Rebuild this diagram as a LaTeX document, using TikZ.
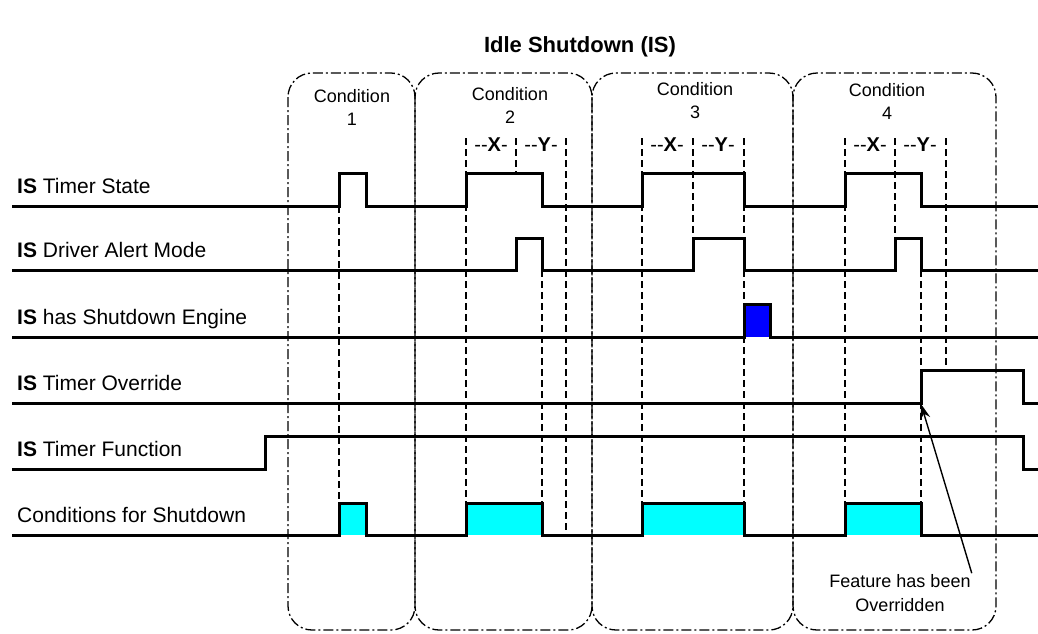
\documentclass[tikz,border=0pt]{standalone}
\usepackage{fontspec}
\setmainfont{Liberation Sans}
\usetikzlibrary{positioning,arrows.meta}
\definecolor{aqua}{RGB}{0,255,255}
\definecolor{pureblue}{RGB}{0,0,255}
\tikzset{
  sig/.style={line width=3pt, line join=miter},
  guide/.style={line width=1.3pt, dash pattern=on 7pt off 4pt},
  cbox/.style={line width=1.3pt, dash pattern=on 10pt off 3pt on 2pt off 3pt, rounded corners=24pt},
  lbl/.style={anchor=base west, inner sep=0pt, font=\fontsize{21}{25}\selectfont},
  cond/.style={align=center, inner sep=0pt, font=\fontsize{18}{23}\selectfont},
  gap/.style={inner sep=0pt, font=\fontsize{20}{24}\selectfont},
}

\begin{document}
\begin{tikzpicture}[x=1pt,y=-1pt]
\useasboundingbox (0,0) rectangle (1038,633);

\node[font=\bfseries\fontsize{22}{26}\selectfont] (title) at (580,47) {Idle Shutdown (IS)};

\draw[cbox] (288,73) rectangle (415,630);
\draw[cbox] (415,73) rectangle (592,630);
\draw[cbox] (592,73) rectangle (793,630);
\draw[cbox] (793,73) rectangle (996,630);

\node[cond] (cond1) at (352,107) {Condition\\1};
\node[cond] (cond2) at (510,105) {Condition\\2};
\node[cond] (cond3) at (695,101) {Condition\\3};
\node[cond] (cond4) at (887,101) {Condition\\4};

\node[gap] (x2) at (491,145) {-{}-\textbf{X}-};
\node[gap] (y2) at (541,145) {-{}-\textbf{Y}-};
\node[gap] (x3) at (667,145) {-{}-\textbf{X}-};
\node[gap] (y3) at (718,145) {-{}-\textbf{Y}-};
\node[gap] (x4) at (870,145) {-{}-\textbf{X}-};
\node[gap] (y4) at (920,145) {-{}-\textbf{Y}-};

\draw[guide] (339,206) -- (339,503);
\draw[guide] (466,138) -- (466,503);
\draw[guide] (516,138) -- (516,173);
\draw[guide] (542,270) -- (542,503);
\draw[guide] (566,138) -- (566,535);
\draw[guide] (642,138) -- (642,503);
\draw[guide] (693,138) -- (693,238);
\draw[guide] (744,138) -- (744,503);
\draw[guide] (845,138) -- (845,503);
\draw[guide] (895,138) -- (895,238);
\draw[guide] (921,270) -- (921,503);
\draw[guide] (946,138) -- (946,370);

\fill[pureblue] (744,304) rectangle (770,337);
\fill[aqua] (339,503) rectangle (366,535);
\fill[aqua] (466,503) rectangle (542,535);
\fill[aqua] (642,503) rectangle (744,535);
\fill[aqua] (845,503) rectangle (921,535);

\node[lbl] (state) at (17,193) {\textbf{IS} Timer State};
\node[lbl] (alert) at (17,257) {\textbf{IS} Driver Alert Mode};
\node[lbl] (engine) at (17,324) {\textbf{IS} has Shutdown Engine};
\node[lbl] (override) at (17,390) {\textbf{IS} Timer Override};
\node[lbl] (function) at (17,456) {\textbf{IS} Timer Function};
\node[lbl] (conds) at (17,522) {Conditions for Shutdown};

\draw[sig] (12,206) -- (339,206) -- (339,173) -- (366,173) -- (366,206) -- (466,206) -- (466,173) -- (542,173) -- (542,206) -- (642,206) -- (642,173) -- (744,173) -- (744,206) -- (845,206) -- (845,173) -- (921,173) -- (921,206) -- (1038,206);
\draw[sig] (12,270) -- (516,270) -- (516,238) -- (542,238) -- (542,270) -- (693,270) -- (693,238) -- (744,238) -- (744,270) -- (895,270) -- (895,238) -- (921,238) -- (921,270) -- (1038,270);
\draw[sig] (12,337) -- (744,337) -- (744,304) -- (770,304) -- (770,337) -- (1038,337);
\draw[sig] (12,403) -- (921,403) -- (921,370) -- (1023,370) -- (1023,403) -- (1038,403);
\draw[sig] (12,469) -- (265,469) -- (265,436) -- (1023,436) -- (1023,469) -- (1038,469);
\draw[sig] (12,535) -- (339,535) -- (339,503) -- (366,503) -- (366,535) -- (466,535) -- (466,503) -- (542,503) -- (542,535) -- (642,535) -- (642,503) -- (744,503) -- (744,535) -- (845,535) -- (845,503) -- (921,503) -- (921,535) -- (1038,535);

\coordinate (ovr) at (921,404);
\node[align=center, inner sep=1pt, font=\fontsize{18}{24}\selectfont] (note) at (900,593) {Feature has been\\Overridden};
\draw[line width=1.4pt, -{Stealth[length=15pt,width=10pt]}] (note.north east) -- (ovr);
\end{tikzpicture}
\end{document}
